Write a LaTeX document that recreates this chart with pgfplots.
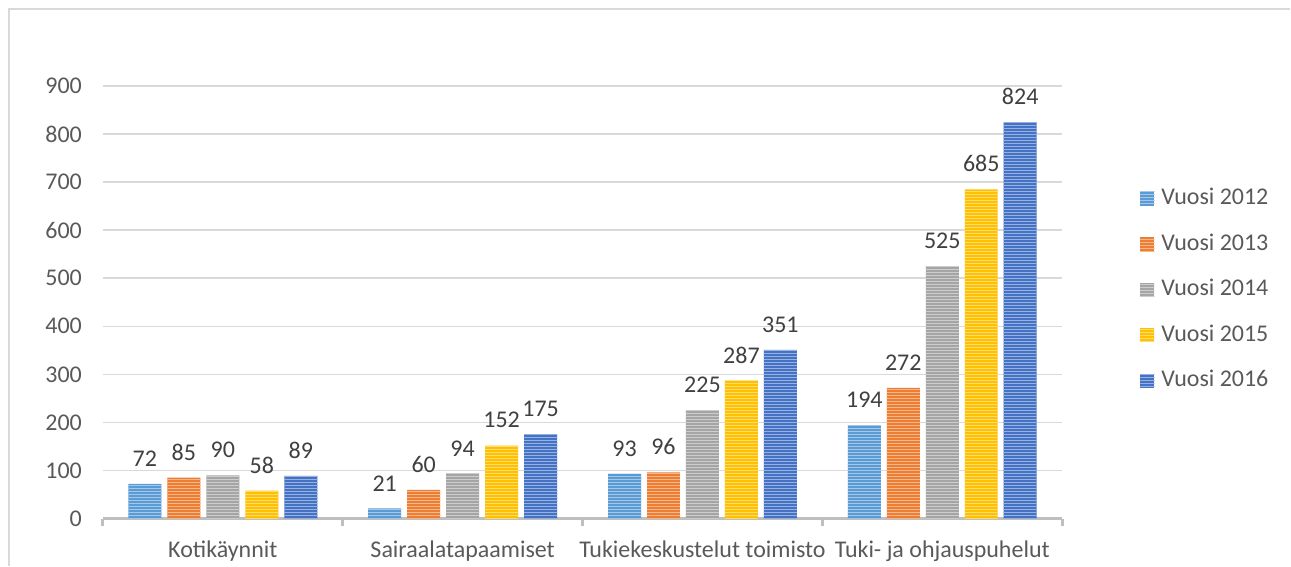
\documentclass[border=0pt]{standalone}
\usepackage{fontspec}
\setmainfont{Carlito}
\usepackage{pgfplots}
\pgfplotsset{compat=1.18}
\usetikzlibrary{patterns}
\definecolor{cA}{HTML}{5B9BD5}
\definecolor{cB}{HTML}{ED7D31}
\definecolor{cC}{HTML}{A5A5A5}
\definecolor{cD}{HTML}{FFC000}
\definecolor{cE}{HTML}{4472C4}
\definecolor{Txt}{HTML}{595959}
\definecolor{Lbl}{HTML}{404040}
\definecolor{Grid}{HTML}{D9D9D9}
\definecolor{AxisCol}{HTML}{BFBFBF}
\pgfdeclarepatternformonly{hstripes}{\pgfqpoint{-1pt}{-1pt}}{\pgfqpoint{2pt}{2pt}}{\pgfqpoint{1.5pt}{1.5pt}}{%
  \pgfsetlinewidth{0.6pt}%
  \pgfpathmoveto{\pgfqpoint{-1pt}{0pt}}\pgfpathlineto{\pgfqpoint{2pt}{0pt}}\pgfusepath{stroke}}
\tikzset{bar/.style={fill=#1,draw=none,postaction={pattern=hstripes,pattern color=white!45!#1}}}
\begin{document}
\begin{tikzpicture}[font=\fontsize{12}{14}\selectfont]
\begin{axis}[
  name=a,
  scale only axis,
  width=480pt,height=216.5pt,
  ybar=3pt,bar width=16.5pt,
  xmin=-0.5,xmax=3.5,
  ymin=0,ymax=900,
  ytick={0,100,...,900},
  xtick={0,1,2,3},
  xticklabels={Kotikäynnit,Sairaalatapaamiset,Tukiekeskustelut toimisto,Tuki- ja ohjauspuhelut},
  extra x ticks={-0.5,0.5,1.5,2.5,3.5},
  extra x tick labels={},
  extra x tick style={major tick length=3.5pt,tick style={draw=AxisCol,line width=1.5pt},xtick align=outside},
  major tick length=0pt,
  axis x line*=bottom,axis y line*=left,
  x axis line style={draw=AxisCol,line width=1.5pt,-},
  y axis line style={draw=none},
  ymajorgrids,grid style={Grid,line width=0.75pt},
  /pgf/number format/assume math mode=true,
  tick label style={text=Txt},
  yticklabel style={xshift=-7pt},
  xticklabel style={anchor=base,yshift=-19.5pt},
  nodes near coords,
  every node near coord/.append style={text=Lbl,anchor=south,inner sep=0pt,yshift=8.5pt},
  legend cell align=left,
  legend style={draw=none,fill=none,inner sep=0pt,at={(1.081,0.529)},anchor=west,
    row sep=10.75pt,text=Txt,
    nodes={inner ysep=1pt,inner xsep=3.5pt,text height=8pt,text depth=2pt}},
  legend image code/.code={\path[#1] (0pt,-3.5pt) rectangle (7pt,3.5pt);},
]
\addplot[bar=cA] coordinates {(0,72) (1,21) (2,93) (3,194)};
\addplot[bar=cB] coordinates {(0,85) (1,60) (2,96) (3,272)};
\addplot[bar=cC] coordinates {(0,90) (1,94) (2,225) (3,525)};
\addplot[bar=cD] coordinates {(0,58) (1,152) (2,287) (3,685)};
\addplot[bar=cE] coordinates {(0,89) (1,175) (2,351) (3,824)};
\legend{Vuosi 2012,Vuosi 2013,Vuosi 2014,Vuosi 2015,Vuosi 2016}
\end{axis}
\pgfresetboundingbox
\path ([xshift=-51.5pt,yshift=-23.5pt]a.south west) rectangle ([xshift=114pt,yshift=43pt]a.north east);
\draw[Grid,line width=1pt] ([xshift=-47pt,yshift=-23.5pt]a.south west) -- ([xshift=-47pt,yshift=38.5pt]a.north west) -- ([xshift=114pt,yshift=38.5pt]a.north east);
\end{tikzpicture}
\end{document}
